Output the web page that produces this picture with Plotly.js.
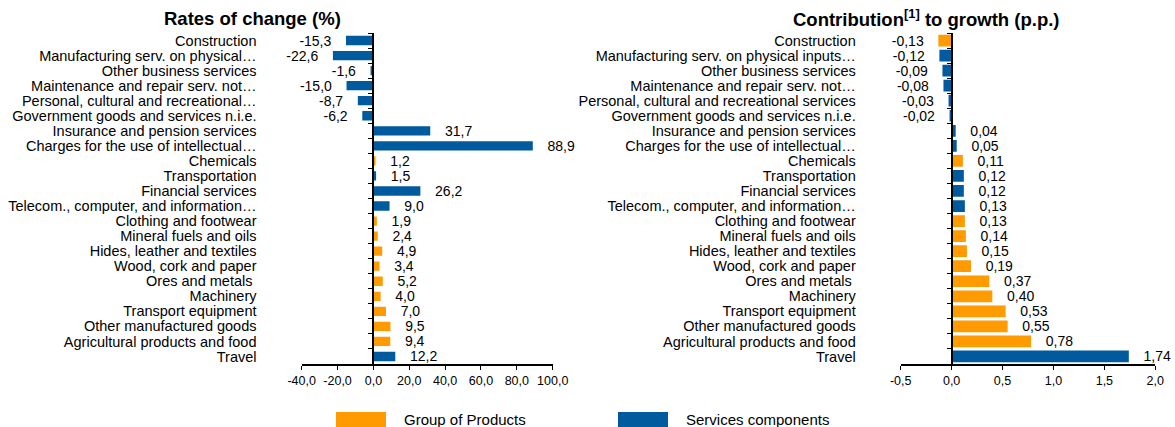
<!DOCTYPE html>
<html>
<head>
<meta charset="utf-8">
<script src="https://cdn.plot.ly/plotly-3.0.1.min.js"></script>
<style>html,body{margin:0;padding:0;background:#fff;}#chart{width:1175px;height:427px;}</style>
</head>
<body>
<div id="chart"></div>
<script>
// ---- Data ----
const rateLabels = [
  "Construction",
  "Manufacturing serv. on physical\u2026",
  "Other business services",
  "Maintenance and repair serv. not\u2026",
  "Personal, cultural and recreational\u2026",
  "Government goods and services n.i.e.",
  "Insurance and pension services",
  "Charges for the use of intellectual\u2026",
  "Chemicals",
  "Transportation",
  "Financial services",
  "Telecom., computer, and information\u2026",
  "Clothing and footwear",
  "Mineral fuels and oils",
  "Hides, leather and textiles",
  "Wood, cork and paper",
  "Ores and metals ",
  "Machinery",
  "Transport equipment",
  "Other manufactured goods",
  "Agricultural products and food",
  "Travel"
];
const rateValues = [-15.3, -22.6, -1.6, -15.0, -8.7, -6.2, 31.7, 88.9, 1.2, 1.5, 26.2, 9.0,
  1.9, 2.4, 4.9, 3.4, 5.2, 4.0, 7.0, 9.5, 9.4, 12.2];
const rateGroups = ["S","S","S","S","S","S","S","S","P","S","S","S",
  "P","P","P","P","P","P","P","P","P","S"];
const rateTicks = [-40, -20, 0, 20, 40, 60, 80, 100];

const contribLabels = [
  "Construction",
  "Manufacturing serv. on physical inputs\u2026",
  "Other business services",
  "Maintenance and repair serv. not\u2026",
  "Personal, cultural and recreational services",
  "Government goods and services n.i.e.",
  "Insurance and pension services",
  "Charges for the use of intellectual\u2026",
  "Chemicals",
  "Transportation",
  "Financial services",
  "Telecom., computer, and information\u2026",
  "Clothing and footwear",
  "Mineral fuels and oils",
  "Hides, leather and textiles",
  "Wood, cork and paper",
  "Ores and metals ",
  "Machinery",
  "Transport equipment",
  "Other manufactured goods",
  "Agricultural products and food",
  "Travel"
];
const contribValues = [-0.13, -0.12, -0.09, -0.08, -0.03, -0.02, 0.04, 0.05, 0.11, 0.12, 0.12, 0.13,
  0.13, 0.14, 0.15, 0.19, 0.37, 0.40, 0.53, 0.55, 0.78, 1.74];
const contribGroups = ["P","S","S","S","S","S","S","S","P","S","S","S",
  "P","P","P","P","P","P","P","P","P","S"];
const contribTicks = [-0.5, 0.0, 0.5, 1.0, 1.5, 2.0];

const groupNames = {P: "Group of Products", S: "Services components"};

// ---- Styles ----
const ORANGE = "#FF9A00";
const BLUE = "#005A9E";
const FONT = "Liberation Sans, Arial, sans-serif";
const W = 1175, H = 427;
const pad = "\u00a0\u00a0\u00a0";

function num(v, d) { return v.toFixed(d).replace(".", ","); }
function fmt(v, d) {
  const s = num(v, d);
  return v < 0 ? s + pad : pad + s;
}

function makeTraces(labels, values, groups, dec, xa, ya, width) {
  const out = [];
  ["P", "S"].forEach(g => {
    const x = [], y = [], t = [];
    values.forEach((v, i) => {
      if (groups[i] === g) { x.push(v); y.push(labels[i]); t.push(fmt(v, dec)); }
    });
    out.push({
      type: "bar", orientation: "h", name: groupNames[g],
      x: x, y: y, text: t, textposition: "outside", constraintext: "none",
      cliponaxis: false, textfont: {family: FONT, size: 14, color: "#000"},
      marker: {color: g === "P" ? ORANGE : BLUE}, width: width,
      xaxis: xa, yaxis: ya, showlegend: false, hoverinfo: "x+y"
    });
  });
  return out;
}

const data = [].concat(
  makeTraces(rateLabels, rateValues, rateGroups, 1, "x", "y", 0.62),
  makeTraces(contribLabels, contribValues, contribGroups, 2, "x2", "y2", 0.78)
);

const leftDomain = [301.7 / W, 552.7 / W];
const rightDomain = [900.7 / W, 1155.3 / W];
const leftRange = [-40, 100];
const rightRange = [-0.5, 2.0];
const yDomain = [1 - 364 / H, 1 - 33 / H];

function zeroPos(dom, rng) {
  return dom[0] + (0 - rng[0]) / (rng[1] - rng[0]) * (dom[1] - dom[0]);
}

function xAxis(dom, rng, ticks, anchor) {
  return {
    domain: dom, range: rng, tickmode: "array", tickvals: ticks,
    ticktext: ticks.map(v => num(v, 1)),
    anchor: anchor, showgrid: false, zeroline: false,
    showline: true, linecolor: "#000", linewidth: 2,
    ticks: "outside", ticklen: 4, tickcolor: "#000", tickwidth: 1,
    tickfont: {family: FONT, size: 12.5, color: "#000"}, fixedrange: true
  };
}
function yAxis(labels, pos, standoff) {
  return {
    domain: yDomain, type: "category", categoryorder: "array", categoryarray: labels,
    range: [labels.length - 0.5, -0.5], anchor: "free", position: pos,
    tickmode: "linear", tick0: 0, dtick: 1,
    showgrid: false, zeroline: false, showline: true, linecolor: "#000", linewidth: 2,
    ticks: "outside", tickson: "boundaries", ticklen: 4, tickcolor: "#000", tickwidth: 1,
    ticklabelstandoff: standoff, automargin: false,
    tickfont: {family: FONT, size: 14.5, color: "#000"}, fixedrange: true
  };
}

const layout = {
  width: W, height: H,
  margin: {l: 0, r: 0, t: 0, b: 0, pad: 0},
  paper_bgcolor: "#fff", plot_bgcolor: "rgba(0,0,0,0)",
  separators: ", ",
  barmode: "overlay",
  showlegend: false,
  xaxis: xAxis(leftDomain, leftRange, rateTicks, "y"),
  yaxis: yAxis(rateLabels, zeroPos(leftDomain, leftRange), 113),
  xaxis2: xAxis(rightDomain, rightRange, contribTicks, "y2"),
  yaxis2: yAxis(contribLabels, zeroPos(rightDomain, rightRange), 92),
  annotations: [
    {text: "<b>Rates of change (%)</b>", xref: "paper", yref: "paper",
     x: 252 / W, y: 1 - 18 / H, xanchor: "center", yanchor: "middle", showarrow: false,
     font: {family: FONT, size: 18.5, color: "#000"}},
    {text: "<b>Contribution<sup>[1]</sup> to growth (p.p.)</b>", xref: "paper", yref: "paper",
     x: 926 / W, y: 1 - 18 / H, xanchor: "center", yanchor: "middle", showarrow: false,
     font: {family: FONT, size: 18.5, color: "#000"}},
    {text: groupNames.P, xref: "paper", yref: "paper", x: 402 / W, y: 1 - 419 / H,
     xanchor: "left", yanchor: "middle", showarrow: false,
     font: {family: FONT, size: 15, color: "#000"}},
    {text: groupNames.S, xref: "paper", yref: "paper", x: 684 / W, y: 1 - 419 / H,
     xanchor: "left", yanchor: "middle", showarrow: false,
     font: {family: FONT, size: 15, color: "#000"}}
  ],
  shapes: [
    {type: "rect", xref: "paper", yref: "paper", x0: 336 / W, x1: 386 / W,
     y0: 1 - 427 / H, y1: 1 - 412 / H, fillcolor: ORANGE, line: {width: 0}},
    {type: "rect", xref: "paper", yref: "paper", x0: 618 / W, x1: 668 / W,
     y0: 1 - 427 / H, y1: 1 - 412 / H, fillcolor: BLUE, line: {width: 0}}
  ]
};

Plotly.newPlot("chart", data, layout, {displayModeBar: false, staticPlot: true});
</script>
</body>
</html>
